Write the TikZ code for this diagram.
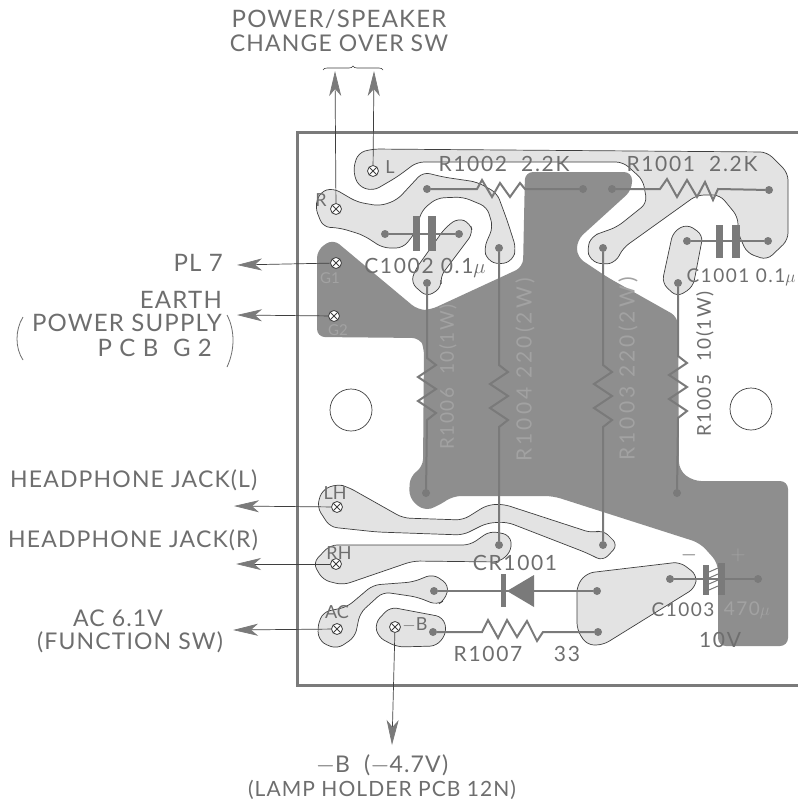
\documentclass[tikz,border=0pt]{standalone}
\usepackage{fontspec}
\setmainfont{Lato}
\usetikzlibrary{arrows.meta,decorations.pathreplacing}
\definecolor{copper}{HTML}{8E8E8E}
\definecolor{padgray}{HTML}{E3E3E3}
\definecolor{padline}{HTML}{3F3F3F}
\definecolor{wiregray}{HTML}{7A7A7A}
\definecolor{inkgray}{HTML}{6E6E6E}
\definecolor{ghostgray}{HTML}{A2A2A2}
\tikzset{
  padshape/.style={draw=padline, fill=padgray, line width=0.7pt, rounded corners=7pt},
  wire/.style={draw=wiregray, line width=2pt},
  solder/.style={circle, fill=wiregray, minimum size=8pt, inner sep=0pt},
  plate/.style={fill=wiregray},
  terminal/.style={circle, draw=padline, fill=white, line width=0.8pt, minimum size=11pt, inner sep=0pt,
    path picture={\draw[padline, line width=0.8pt] (path picture bounding box.center) ++(-4,-4) -- ++(8,8) ++(-8,0) -- ++(8,-8);}},
  leader/.style={draw=padline, line width=0.7pt, -{Stealth[length=25pt,width=12pt,inset=7pt,color=wiregray,fill=wiregray]}},
  biglabel/.style={text=inkgray, inner sep=0pt, font=\fontsize{24}{26}\selectfont\addfontfeature{LetterSpace=5}},
  midlabel/.style={text=inkgray, inner sep=0pt, font=\fontsize{23}{25}\selectfont\addfontfeature{LetterSpace=5}},
  pcblabel/.style={text=inkgray, inner sep=0pt, font=\fontsize{21}{23}\selectfont\addfontfeature{LetterSpace=8}},
  ghostlabel/.style={text=ghostgray, inner sep=0pt, font=\fontsize{21}{23}\selectfont\addfontfeature{LetterSpace=8}},
  tinylabel/.style={text=inkgray, inner sep=0pt, font=\fontsize{18}{20}\selectfont},
  narrowtext/.style={font=\fontsize{19}{21}\selectfont\addfontfeature{LetterSpace=8}},
  widetext/.style={font=\fontsize{21}{23}\selectfont\addfontfeature{LetterSpace=15}},
}
\begin{document}
\begin{tikzpicture}[x=1pt,y=-1pt]
    \useasboundingbox (0,0) rectangle (798,806);
    \fill[white] (0,0) rectangle (798,806);

    % Board edge, open on the right
    \draw[wiregray, line width=3pt] (798,132) -- (297,132) -- (297,685) -- (798,685);
    \foreach \x/\y in {351/410, 751/409}
      \draw[padline, line width=0.7pt] (\x,\y) circle (21);

    % Ground area
    \fill[copper, rounded corners=8pt]
      (333,239) -- (317,250) -- (317,337) -- (420,338) -- (424,347) -- (423,467)
      -- (410,476) -- (409,498) -- (424,511) -- (438,506) -- (453,496) -- (553,496)
      -- (700,543) -- (718,563) -- (718,646) -- (788,646) -- (788,481) -- (693,481)
      -- (679,470) -- (678,317) -- (607,277) -- (577,257) -- (577,240) -- (632,190)
      -- (632,172) -- (525,172) -- (523,267) -- (430,310) -- (418,310) -- cycle;

    % Pads
    \draw[padshape] (353,170) -- (358,153) -- (372,149) -- (767,152) -- (788,173) -- (788,240)
      -- (767,260) -- (747,253) -- (738,233) -- (738,217) -- (720,195) -- (697,195) -- (623,248)
      -- (616,262) -- (603,265) -- (590,260) -- (587,248) -- (592,236) -- (603,232) -- (617,227)
      -- (647,203) -- (643,180) -- (623,162) -- (417,162) -- (397,177) -- (373,191) -- (358,186) -- cycle;
    \draw[padshape] (315,207) -- (320,192) -- (333,188) -- (357,202) -- (380,206) -- (397,200)
      -- (423,172) -- (443,177) -- (477,182) -- (497,193) -- (507,220) -- (516,248) -- (513,260)
      -- (500,265) -- (487,260) -- (484,248) -- (493,227) -- (487,207) -- (463,197) -- (437,198)
      -- (422,210) -- (415,233) -- (403,248) -- (383,248) -- (363,235) -- (340,228) -- (323,227) -- cycle;
    \draw[padshape] (458,218) -- (470,223) -- (473,233) -- (440,277) -- (442,287) -- (427,297)
      -- (411,283) -- (415,270) -- (445,228) -- cycle;
    \draw[padshape] (687,224) -- (703,235) -- (693,287) -- (677,297) -- (662,283) -- (673,232) -- cycle;
    \draw[padshape] (337,484) -- (348,487) -- (403,518) -- (463,520) -- (487,505) -- (503,504)
      -- (592,533) -- (603,530) -- (618,545) -- (603,561) -- (587,553) -- (507,522) -- (487,523)
      -- (463,535) -- (377,532) -- (330,527) -- (317,507) -- (322,490) -- cycle;
    \draw[padshape] (313,563) -- (330,545) -- (470,545) -- (490,531) -- (510,535) -- (512,550)
      -- (500,562) -- (413,561) -- (343,585) -- (323,580) -- cycle;
    \draw[padshape] (317,628) -- (323,612) -- (347,607) -- (373,585) -- (413,582) -- (433,574)
      -- (449,585) -- (445,600) -- (437,605) -- (417,597) -- (383,592) -- (360,613) -- (355,637)
      -- (337,649) -- (320,642) -- cycle;
    \draw[padshape] (390,607) -- (443,617) -- (447,632) -- (437,646) -- (397,647) -- (378,637)
      -- (375,623) -- cycle;
    \draw[padshape] (587,573) -- (680,562) -- (697,575) -- (695,588) -- (603,645) -- (587,645)
      -- (577,630) -- (577,585) -- cycle;

    % Solder points
    \foreach \name/\x/\y in {rc/427/189, rd/583/189, qc/612/189, qd/769/190, ca/385/234, cb/459/234,
        da/687/241, db/768/241, fa/427/283, fb/426/493, ha/499/248, hb/499/545, ja/603/248, jb/603/545,
        ka/678/283, kb/677/493, va/434/591, vb/597/591, sa/433/632, sb/598/632, ea/670/579, eb/758/579}
      \node[solder] (\name) at (\x,\y) {};

    % Horizontal resistors
    \draw[wire] (rc) -- (477,189) -- (482,180) -- (492,197) -- (500,183) -- (510,197) -- (520,183) -- (525,189) -- (rd);
    \draw[wire] (qc) -- (660,189) -- (667,179) -- (677,197) -- (687,180) -- (697,197) -- (705,182) -- (713,200) -- (718,189) -- (qd);
    \draw[wire] (sa) -- (482,632) -- (488,620) -- (498,638) -- (507,620) -- (517,637) -- (527,621) -- (537,641) -- (543,632) -- (sb);

    % Vertical resistors
    \foreach \a/\b/\y in {fa/fb/358, ha/hb/365, ja/jb/365, ka/kb/356}
      \draw[wire] (\a) -- (\a |- 0,\y) -- ++(9,7) -- ++(-18,12) -- ++(18,12) -- ++(-18,12) -- ++(18,12) -- ++(-9,7) -- (\b);

    % Capacitors
    \draw[wire] (ca) -- (cb);
    \fill[plate] (413,216) rectangle (420,251);
    \fill[plate] (428,216) rectangle (436,251);
    \draw[wire] (da) -- (db);
    \fill[plate] (716,225) rectangle (723,258);
    \fill[plate] (732,225) rectangle (740,258);
    \draw[wire] (ea) -- (eb);
    \fill[plate] (703,565) rectangle (709,595);
    \fill[plate] (718,563) rectangle (725,595);
    \foreach \y in {572,578,584,590}
      \draw[wiregray, line width=1pt] (709,\y) -- (718,\y-4);

    % Diode
    \draw[wire] (va) -- (vb);
    \fill[plate] (501,574) rectangle (506,607);
    \fill[plate] (507,591) -- (534,575) -- (534,607) -- cycle;

    % Terminals
    \foreach \name/\x/\y in {tl/373/171, tr/336/209, gi/336/263, gii/334/316, lh/337/507, rh/336/564, ac/337/629, mb/395/627}
      \node[terminal] (\name) at (\x,\y) {};

    % Leaders
    \coordinate (outl) at (374,71);
    \coordinate (outr) at (335,71);
    \coordinate (outpl) at (237,265);
    \coordinate (outea) at (237,315);
    \coordinate (outlh) at (234,506);
    \coordinate (outrh) at (236,564);
    \coordinate (outac) at (233,630);
    \coordinate (outb) at (392,745);
    \foreach \a/\b in {tl/outl, tr/outr, gi/outpl, gii/outea, lh/outlh, rh/outrh, ac/outac, mb/outb}
      \draw[leader] (\a) -- (\b);
    \coordinate (bra) at (323,70);
    \coordinate (brb) at (383,70);
    \draw[padline, line width=0.6pt, decorate, decoration={brace,amplitude=4pt}] (bra) -- (brb);

    % Outside labels
    \node[biglabel] (swa) at (339,19) {POWER/SPEAKER};
    \node[biglabel, font=\fontsize{23}{25}\selectfont\addfontfeature{LetterSpace=5}] (swb) at (339,43) {CHANGE OVER SW};
    \node[biglabel, anchor=east] (pl) at (223,263) {PL 7};
    \node[biglabel, anchor=east] (eartha) at (222,300) {EARTH};
    \node[biglabel, anchor=east] (earthb) at (222,323) {POWER SUPPLY};
    \node[biglabel, anchor=east] (earthc) at (212,348) {P C B\ \ G 2};
    \draw[inkgray, line width=0.8pt] (23,317) .. controls (15,330) and (15,348) .. (23,360);
    \draw[inkgray, line width=0.8pt] (227,315) .. controls (235,330) and (235,350) .. (227,367);
    \node[midlabel, anchor=west] (hl) at (10,480) {HEADPHONE JACK(L)};
    \node[midlabel, anchor=west] (hr) at (8,540) {HEADPHONE JACK(R)};
    \node[midlabel] (aca) at (118,618) {AC 6.1V};
    \node[midlabel] (acb) at (130,642) {(FUNCTION SW)};
    \node[midlabel] (ba) at (382,765) {$-$B\ \ ($-$4.7V)};
    \node[midlabel, font=\fontsize{21}{23}\selectfont\addfontfeature{LetterSpace=5}] (bb) at (382,790) {(LAMP HOLDER PCB 12N)};

    % Part labels on the board
    \node[pcblabel] (lr2) at (504,164) {R1002\ \ 2.2K};
    \node[pcblabel] (lr1) at (692,164) {R1001\ \ 2.2K};
    \node[pcblabel] (lc2) at (425,268) {C1002 0.1$\mu$};
    \node[pcblabel, narrowtext] (lc1) at (741,277) {C1001 0.1$\mu$};
    \node[ghostlabel, narrowtext, rotate=90] (lr6) at (448,377) {R1006\ \ 10(1W)};
    \node[ghostlabel, widetext, rotate=90] (lr4) at (525,370) {R1004 220(2W)};
    \node[ghostlabel, widetext, rotate=90] (lr3) at (628,369) {R1003 220(2W)};
    \node[pcblabel, narrowtext, rotate=90] (lr5) at (705,364) {R1005\ \ 10(1W)};
    \node[pcblabel] (lcr) at (515,563) {CR1001};
    \node[pcblabel] (lr7) at (488,654) {R1007};
    \node[pcblabel] (lv) at (567,654) {33};
    \node[pcblabel, narrowtext] (lc3) at (683,610) {C1003};
    \node[ghostlabel, narrowtext] (lca) at (747,610) {470$\mu$};
    \node[pcblabel] (ltv) at (720,640) {10V};
    \node[pcblabel] (lm) at (689,555) {$-$};
    \node[ghostlabel] (lp) at (738,555) {$+$};

    % Terminal names
    \node[tinylabel] (nl) at (390,167) {L};
    \node[tinylabel] (nr) at (321,200) {R};
    \node[ghostlabel, font=\fontsize{15}{16}\selectfont] (ng) at (330,278) {G1};
    \node[ghostlabel, font=\fontsize{15}{16}\selectfont] (nh) at (338,330) {G2};
    \node[tinylabel] (nlh) at (335,493) {LH};
    \node[tinylabel] (nrh) at (339,553) {RH};
    \node[tinylabel] (nac) at (337,612) {AC};
    \node[tinylabel] (nb) at (415,625) {$-$B};
\end{tikzpicture}
\end{document}
